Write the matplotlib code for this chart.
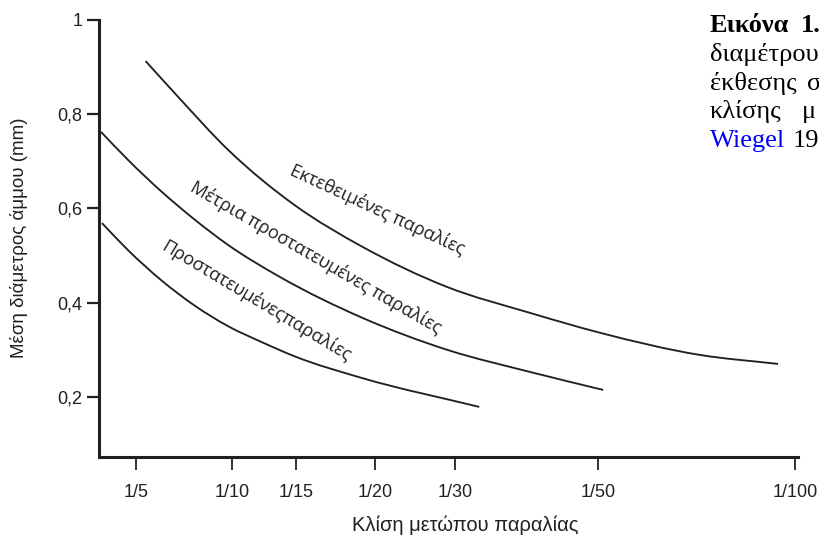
import numpy as np
import matplotlib
matplotlib.use("Agg")
import matplotlib.pyplot as plt
from matplotlib.path import Path
from matplotlib.patches import PathPatch

# ===============================
# 1. Data
# ===============================
# x values are slope denominators (1/n), y is mean grain diameter (mm)
slope_n = [5, 10, 15, 20, 30, 50, 100]
slope_labels = ["1/5", "1/10", "1/15", "1/20", "1/30", "1/50", "1/100"]

y_ticks = [0.2, 0.4, 0.6, 0.8, 1.0]
y_labels = ["0,2", "0,4", "0,6", "0,8", "1"]

exposed_n = [5.5, 7.2, 9.8, 14.9, 19.2, 29.0, 40.5, 50.5, 75.9, 95.7]
exposed_d = [0.912, 0.836, 0.724, 0.607, 0.519, 0.434, 0.379, 0.337, 0.290, 0.271]

moderate_n = [3.18, 4.58, 6.35, 8.07, 9.79, 13.75, 19.24, 29.0, 40.5, 51.3]
moderate_d = [0.762, 0.703, 0.635, 0.576, 0.523, 0.455, 0.368, 0.301, 0.254, 0.216]

protected_n = [3.23, 4.58, 6.35, 8.07, 9.79, 12.34, 14.9, 19.2, 33.4]
protected_d = [0.569, 0.512, 0.447, 0.394, 0.351, 0.317, 0.287, 0.241, 0.180]

# hand-drawn (non-uniform) slope axis: where each slope sits along the axis
axis_n = [0, 5, 10, 15, 20, 30, 50, 100, 200]
axis_pos = [-59, 37, 133, 197, 276, 356, 499, 696, 1090]


def fwd(n):
    return np.interp(n, axis_n, axis_pos)


def inv(p):
    return np.interp(p, axis_pos, axis_n)


ink = "#231f20"
W, H = 820, 542


def smooth_curve(ax, n, d, **kw):
    # smooth line through the points (cubic Hermite as Bezier segments),
    # built along the drawn axis so the curve stays smooth on screen
    x = fwd(np.asarray(n, float))
    y = np.asarray(d, float)
    h = np.diff(x)
    s = np.diff(y) / h
    m = np.empty_like(y)
    m[0], m[-1] = s[0], s[-1]
    m[1:-1] = (s[1:] * h[:-1] + s[:-1] * h[1:]) / (h[:-1] + h[1:])
    verts = [(x[0], y[0])]
    codes = [Path.MOVETO]
    for i in range(len(x) - 1):
        verts += [(x[i] + h[i] / 3, y[i] + m[i] * h[i] / 3),
                  (x[i + 1] - h[i] / 3, y[i + 1] - m[i + 1] * h[i] / 3),
                  (x[i + 1], y[i + 1])]
        codes += [Path.CURVE4] * 3
    verts = np.array(verts)
    verts[:, 0] = inv(verts[:, 0])
    ax.add_patch(PathPatch(Path(verts, codes), fill=False, **kw))


# ===============================
# 2. Figure / axes
# ===============================
fig = plt.figure(figsize=(8.2, 5.42), dpi=100)
ax = fig.add_axes([99 / W, (H - 457) / H, (798 - 99) / W, (457 - 19.5) / H])
ax.set_xscale("function", functions=(fwd, inv))
ax.set_xlim(inv(0), inv(699))
ax.set_ylim(0.074, 1.0)

for xs, ys in [(exposed_n, exposed_d), (moderate_n, moderate_d), (protected_n, protected_d)]:
    smooth_curve(ax, xs, ys, edgecolor=ink, linewidth=1.35, capstyle="butt")

# ===============================
# 3. Axes styling
# ===============================
for s in ["top", "right"]:
    ax.spines[s].set_visible(False)
ax.spines["left"].set_linewidth(2.2)
ax.spines["left"].set_color(ink)
ax.spines["bottom"].set_linewidth(2.2)
ax.spines["bottom"].set_color(ink)
ax.spines["bottom"].set_bounds(inv(3), inv(699))

ax.set_xticks(slope_n)
ax.set_xticklabels(slope_labels)
ax.xaxis.set_minor_locator(matplotlib.ticker.NullLocator())
ax.set_yticks(y_ticks)
ax.set_yticklabels(y_labels)

ax.tick_params(axis="x", direction="out", length=9.5, width=1.3, color=ink,
               pad=10, labelsize=13, labelcolor=ink)
ax.tick_params(axis="y", direction="out", length=8.6, width=1.6, color=ink,
               pad=3.5, labelsize=13, labelcolor=ink)
for lab in ax.get_xticklabels() + ax.get_yticklabels():
    lab.set_fontfamily("Liberation Sans")

fig.text(465 / W, 1 - 525 / H, "Κλίση μετώπου παραλίας", ha="center", va="center",
         fontsize=14.5, color=ink, family="Liberation Sans")
fig.text(19 / W, 1 - 238 / H, "Μέση διάμετρος άμμου (mm)", ha="center", va="center",
         rotation=90, fontsize=13.5, color=ink, family="Liberation Sans")

# curve labels
lab_kw = dict(ha="center", va="center", rotation_mode="anchor", fontsize=13,
              color=ink, family="Open Sans")
fig.text(377 / W, 1 - 210 / H, "Εκτεθειμένες παραλίες", rotation=-25, **lab_kw)
fig.text(316 / W, 1 - 257 / H, "Μέτρια προστατευμένες παραλίες", rotation=-30, **lab_kw)
fig.text(256 / W, 1 - 301 / H, "Προστατευμένεςπαραλίες", rotation=-31, **lab_kw)

# ===============================
# 4. Clipped caption on the right
# ===============================
cap = dict(fontsize=19, family="Liberation Serif", va="baseline", ha="left", color="black")
fig.text(710 / W, 1 - 32 / H, "Εικόνα", fontweight="bold", **cap)
fig.text(801 / W, 1 - 32 / H, "1.", fontweight="bold", **cap)
fig.text(710 / W, 1 - 61 / H, "διαμέτρου", **cap)
fig.text(710 / W, 1 - 90 / H, "έκθεσης", **cap)
fig.text(807 / W, 1 - 90 / H, "σ", **cap)
fig.text(710 / W, 1 - 118 / H, "κλίσης", **cap)
fig.text(802 / W, 1 - 118 / H, "μ", **cap)
fig.text(710 / W, 1 - 147 / H, "Wiegel", **{**cap, "color": "#0000ff"})
fig.text(793 / W, 1 - 147 / H, "19", **cap)

fig.savefig("out.png", dpi=100)
